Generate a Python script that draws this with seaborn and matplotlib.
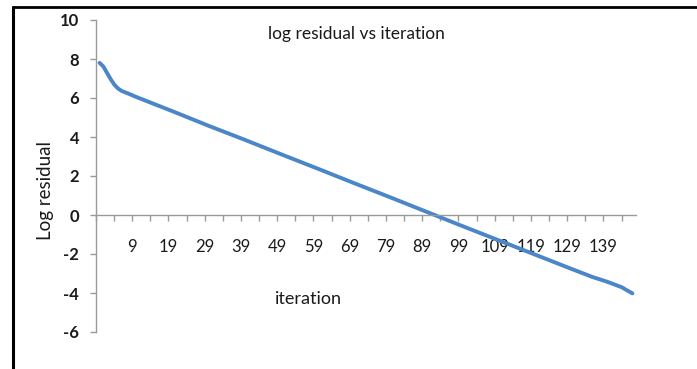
import matplotlib
matplotlib.use("Agg")
import matplotlib.pyplot as plt
import matplotlib.lines as mlines
import seaborn as sns
import pandas as pd
from matplotlib.ticker import FixedLocator, MultipleLocator

# ---- data ----
iterations = [0, 1, 2, 3, 4, 5, 6, 8, 10, 20, 30, 40, 50, 60, 70, 80, 90,
              100, 110, 120, 130, 136, 140, 144, 147]
log_residual = [7.80, 7.62, 7.30, 6.98, 6.70, 6.50, 6.37, 6.22, 6.06, 5.33,
                4.58, 3.86, 3.12, 2.39, 1.65, 0.92, 0.18, -0.56, -1.29,
                -2.02, -2.75, -3.18, -3.42, -3.70, -4.02]
x_tick_labels = [9, 19, 29, 39, 49, 59, 69, 79, 89, 99, 109, 119, 129, 139]
y_ticks = [-6, -4, -2, 0, 2, 4, 6, 8, 10]

title_text = "log residual vs iteration"
x_label = "iteration"
y_label = "Log residual"

df = pd.DataFrame({"iteration": iterations, "log_residual": log_residual})

sns.set_theme(style="white")
plt.rcParams["font.family"] = ["Lato", "DejaVu Sans"]

W, H = 697, 369
fig = plt.figure(figsize=(W / 100, H / 100), dpi=100)
ax = fig.add_axes([96 / W, 1 - 332 / H, (636 - 96) / W, (332 - 20) / H])

sns.lineplot(data=df, x="iteration", y="log_residual", ax=ax,
             color="#4A86C8", linewidth=2.8, solid_capstyle="round")

ax.set_xlim(-1, 148)
ax.set_ylim(-6, 10)

axis_gray = "#9A9A9A"
for s in ["top", "right"]:
    ax.spines[s].set_visible(False)
ax.spines["left"].set_color(axis_gray)
ax.spines["left"].set_linewidth(1.0)
ax.spines["bottom"].set_position(("data", 0))
ax.spines["bottom"].set_color(axis_gray)
ax.spines["bottom"].set_linewidth(1.0)

ax.xaxis.set_major_locator(FixedLocator(x_tick_labels))
ax.set_xticklabels([str(v) for v in x_tick_labels])
ax.xaxis.set_minor_locator(MultipleLocator(5, offset=4))
ax.set_yticks(y_ticks)
ax.set_yticklabels([str(v) for v in y_ticks])

ax.tick_params(axis="x", which="both", direction="out", length=4, width=1,
               color=axis_gray, pad=13, labelsize=12, labelcolor="#1a1a1a",
               bottom=True)
ax.tick_params(axis="y", direction="out", length=4, width=1, color=axis_gray,
               pad=8, labelsize=12, labelcolor="#1a1a1a", left=True)
for lbl in ax.get_yticklabels():
    lbl.set_fontweight("bold")

ax.text((356 - 96) / 540, (332 - 34) / 312, title_text, transform=ax.transAxes,
        ha="center", va="center", fontsize=12.5, color="#1a1a1a")

ax.set_xlabel(x_label, fontsize=13, color="#1a1a1a")
ax.xaxis.set_label_coords((308 - 96) / 540, (332 - 299) / 312)
ax.xaxis.label.set_va("center")
ax.set_ylabel(y_label, fontsize=13.5, color="#1a1a1a")
ax.yaxis.set_label_coords((46 - 96) / 540, (332 - 190) / 312)
ax.yaxis.label.set_va("center")

# black frame at top and left of the screenshot
fig.add_artist(mlines.Line2D([12.5 / W, 12.5 / W], [0, 1 - 7 / H],
                             transform=fig.transFigure, color="black", lw=2.2))
fig.add_artist(mlines.Line2D([12.5 / W, 1], [1 - 7 / H, 1 - 7 / H],
                             transform=fig.transFigure, color="black", lw=2.0))

fig.savefig("out.png", dpi=100)
